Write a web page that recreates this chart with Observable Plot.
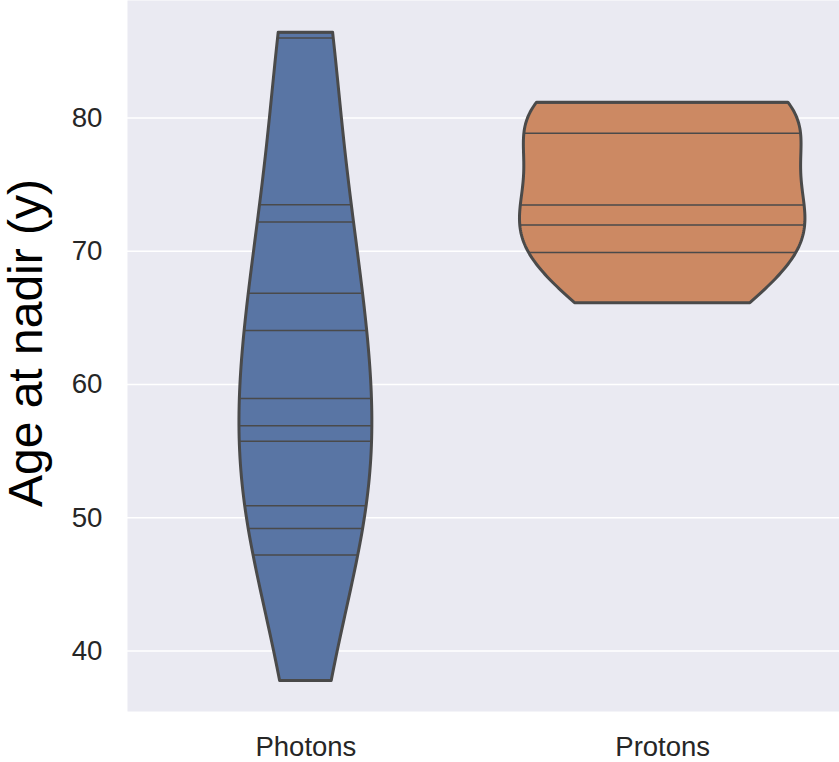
<!DOCTYPE html>
<html>
<head>
<meta charset="utf-8">
<script src="https://cdn.jsdelivr.net/npm/d3@7"></script>
<script src="https://cdn.jsdelivr.net/npm/@observablehq/plot@0.6"></script>
<style>
  html, body { margin: 0; padding: 0; background: #ffffff; }
  #chart svg { display: block; }
</style>
</head>
<body>
<div id="chart"></div>
<script>
// ---- data ----
const categories = ["Photons", "Protons"];
const photons = [86.4, 86.0, 73.5, 72.2, 66.85, 64.05, 58.95, 56.9, 55.75, 50.9, 49.2, 47.2, 37.75];
const protons = [81.15, 81.15, 78.85, 73.47, 71.97, 69.9, 66.1];
const yTicks = [40, 50, 60, 70, 80];
const yLabel = "Age at nadir (y)";
const fills = ["#5975a4", "#cc8963"];
const edge = "#4a4a4a";

// ---- violin density (gaussian KDE, Scott bandwidth, cut = 0) ----
function kde(values) {
  const n = values.length;
  const bw = d3.deviation(values) * Math.pow(n, -0.2);
  const [lo, hi] = d3.extent(values);
  const grid = d3.range(100).map(i => lo + (hi - lo) * i / 99);
  const f = y => d3.sum(values, v => Math.exp(-0.5 * ((y - v) / bw) ** 2)) / (n * bw * Math.sqrt(2 * Math.PI));
  return {grid, dens: grid.map(f), f};
}
const groups = [photons, protons].map(kde);
const dmax = d3.max(groups, g => d3.max(g.dens));
const half = 0.4;

const violins = groups.map((g, i) => g.grid.map((y, k) => ({
  cat: i, y, x1: i - half * g.dens[k] / dmax, x2: i + half * g.dens[k] / dmax
})));
const sticks = [photons, protons].flatMap((vals, i) => vals.map(v => {
  const d = groups[i].f(v);
  return {cat: i, y: v, x1: i - half * d / dmax, x2: i + half * d / dmax};
}));

const marks = [
  Plot.frame({fill: "#eaeaf2", stroke: null}),
  Plot.gridY(yTicks, {stroke: "#ffffff", strokeOpacity: 1, strokeWidth: 1.6}),
];
violins.forEach((rows, i) => {
  marks.push(Plot.areaX(rows, {y: "y", x1: "x1", x2: "x2", fill: fills[i], fillOpacity: 1, stroke: edge, strokeWidth: 3, strokeLinejoin: "round"}));
});
marks.push(Plot.ruleY(sticks, {y: "y", x1: "x1", x2: "x2", stroke: edge, strokeWidth: 1.5}));
marks.push(Plot.axisY(yTicks, {tickSize: 0, tickPadding: 25, fontSize: 27.7, label: null, fill: "#262626"}));
marks.push(Plot.axisX([0, 1], {tickFormat: i => categories[i], tickSize: 0, tickPadding: 24.5, fontSize: 27.5, label: null, fill: "#262626"}));
marks.push(Plot.text([yLabel], {text: d => d, frameAnchor: "left", textAnchor: "middle", rotate: -90, dx: -101, dy: -13, fontSize: 48, fill: "#000000"}));

const chart = Plot.plot({
  width: 839,
  height: 762,
  marginLeft: 127,
  marginRight: 0,
  marginTop: 0,
  marginBottom: 51,
  style: {fontFamily: "'Liberation Sans', Arial, sans-serif", background: "#ffffff", overflow: "visible"},
  x: {domain: [-0.5, 1.4955], axis: null},
  y: {domain: [35.46, 88.82], axis: null},
  marks
});
document.getElementById("chart").appendChild(chart);
</script>
</body>
</html>
